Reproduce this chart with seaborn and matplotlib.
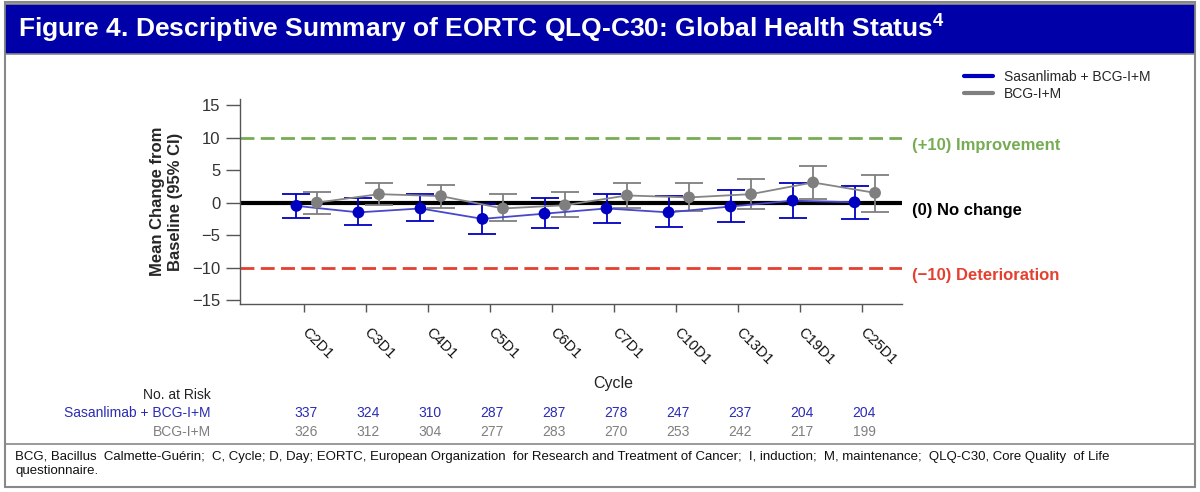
import pandas as pd
import seaborn as sns
import matplotlib.pyplot as plt
from matplotlib.patches import Rectangle
from matplotlib.lines import Line2D
from matplotlib.transforms import ScaledTranslation


# values
cycles = ["C2D1", "C3D1", "C4D1", "C5D1", "C6D1", "C7D1", "C10D1", "C13D1", "C19D1", "C25D1"]

sas_mean = [-0.5, -1.5, -0.9, -2.5, -1.7, -0.9, -1.5, -0.6, 0.3, 0.05]
sas_lo = [-2.4, -3.5, -2.8, -4.9, -3.9, -3.1, -3.7, -3.0, -2.3, -2.5]
sas_hi = [1.4, 0.7, 1.3, -0.2, 0.7, 1.3, 1.0, 2.0, 3.0, 2.6]

bcg_mean = [0.0, 1.3, 1.0, -0.9, -0.4, 1.1, 0.8, 1.3, 3.1, 1.5]
bcg_lo = [-1.8, -0.3, -0.8, -2.9, -2.2, -0.9, -1.3, -1.0, 0.6, -1.4]
bcg_hi = [1.6, 3.0, 2.7, 1.4, 1.7, 3.0, 3.0, 3.7, 5.7, 4.3]

sas_n = [337, 324, 310, 287, 287, 278, 247, 237, 204, 204]
bcg_n = [326, 312, 304, 277, 283, 270, 253, 242, 217, 199]

arms = ["Sasanlimab + BCG-I+M", "BCG-I+M"]

# esthetics
sns.set_style("white")
plt.rcParams["font.family"] = ["Liberation Sans", "DejaVu Sans"]
plt.rcParams["mathtext.fontset"] = "custom"
plt.rcParams["mathtext.rm"] = "Liberation Sans"
plt.rcParams["mathtext.bf"] = "Liberation Sans:bold"
narrow = ["Liberation Sans Narrow", "Liberation Sans", "DejaVu Sans"]

palette = {
    arms[0]: "#0000C0",  # blue
    arms[1]: "#7F7F7F",  # gray
}
line_colors = {arms[0]: "#4848CC", arms[1]: "#858585"}
offsets = {arms[0]: -0.12, arms[1]: 0.21}
green = "#77AC55"
red = "#E5402F"

rows = []
for arm, means, los, his in [
    (arms[0], sas_mean, sas_lo, sas_hi),
    (arms[1], bcg_mean, bcg_lo, bcg_hi),
]:
    for i, c in enumerate(cycles):
        rows.append({"Arm": arm, "Cycle": c, "pos": i + offsets[arm],
                     "Mean": means[i], "lo": los[i], "hi": his[i]})
df = pd.DataFrame(rows)

fig = plt.figure(figsize=(12, 4.92), dpi=100)
ax = fig.add_axes([0.2, 0.382, 0.5517, 0.417])

# reference lines
ax.axhline(10, color=green, lw=2, ls=(0, (5, 2.3)), zorder=1)
ax.axhline(-10, color=red, lw=2, ls=(0, (5, 2.3)), zorder=1)
ax.axhline(0, color="black", lw=3, zorder=2)

for arm in arms:
    sub = df[df["Arm"] == arm]
    ax.errorbar(sub["pos"], sub["Mean"],
                yerr=[sub["Mean"] - sub["lo"], sub["hi"] - sub["Mean"]],
                fmt="none", ecolor=palette[arm], elinewidth=1.3,
                capsize=10, capthick=1.3, zorder=3)

sns.lineplot(data=df, x="pos", y="Mean", hue="Arm", palette=line_colors,
             hue_order=arms, lw=1.3, legend=False, ax=ax, zorder=3,
             sort=True, estimator=None)
sns.scatterplot(data=df, x="pos", y="Mean", hue="Arm", palette=palette,
                hue_order=arms, s=72, edgecolor="none", legend=False,
                ax=ax, zorder=4)

ax.set_xlim(-1.03, 9.645)
ax.set_ylim(-15.6, 15.95)
ax.set_yticks([15, 10, 5, 0, -5, -10, -15])
ax.set_yticklabels(["15", "10", "5", "0", "\u22125", "\u221210", "\u221215"])
ax.set_xticks(range(len(cycles)))
ax.set_xticklabels(cycles, rotation=-45, ha="left", va="top",
                   rotation_mode="anchor")
ax.tick_params(axis="y", length=10, width=1, color="#555555",
               labelsize=12, labelcolor="#333333", pad=4, left=True)
ax.tick_params(axis="x", length=6, width=1, color="#555555",
               labelsize=10.5, labelcolor="#111111", pad=9, bottom=True)
shift = ScaledTranslation(5 / 100, 0, fig.dpi_scale_trans)
for lab in ax.get_xticklabels():
    lab.set_transform(lab.get_transform() + shift)
sns.despine(ax=ax)
for side in ["left", "bottom"]:
    ax.spines[side].set_color("#555555")
    ax.spines[side].set_linewidth(1)

ax.set_ylabel("Mean Change from\nBaseline (95% CI)", fontsize=12,
              fontweight="bold", labelpad=7)
ax.set_xlabel("Cycle", fontsize=11.5, color="#222222")
ax.xaxis.set_label_coords((613 - 240) / 662, (304 - 376) / 205)

# reference labels
ax.text(9.8, 10, "(+10) Improvement", color=green, fontsize=12,
        fontweight="bold", va="top", ha="left", clip_on=False)
ax.text(9.8, 0, "(0) No change", color="black", fontsize=12,
        fontweight="bold", va="top", ha="left", clip_on=False)
ax.text(9.8, -10, "(\u221210) Deterioration", color=red, fontsize=12,
        fontweight="bold", va="top", ha="left", clip_on=False)

# legend
handles = [Line2D([], [], color=palette[a], lw=3) for a in arms]
fig.legend(handles, arms, loc="upper left", bbox_to_anchor=(958 / 1200, 1 - 64 / 492),
           frameon=False, fontsize=10, handlelength=2.1, handletextpad=0.8,
           labelspacing=0.25, borderaxespad=0)

# number at risk table
fig.text(211 / 1200, 1 - 395 / 492, "No. at Risk", ha="right", va="center",
         fontsize=10, family=narrow, color="#222222")
fig.text(211 / 1200, 1 - 413 / 492, arms[0], ha="right", va="center",
         fontsize=10, family=narrow, color="#2B2BB5")
fig.text(211 / 1200, 1 - 432 / 492, arms[1], ha="right", va="center",
         fontsize=10, family=narrow, color="#7F7F7F")
for i in range(len(cycles)):
    xf = (304 + 62 * i + 2) / 1200
    fig.text(xf, 1 - 413 / 492, str(sas_n[i]), ha="center", va="center",
             fontsize=10, family=narrow, color="#2B2BB5")
    fig.text(xf, 1 - 432 / 492, str(bcg_n[i]), ha="center", va="center",
             fontsize=10, family=narrow, color="#7F7F7F")

# frame, title bar and footnote
fig.patches.append(Rectangle((5 / 1200, 5 / 492), 1190 / 1200, 485 / 492,
                             transform=fig.transFigure, fill=False,
                             ec="#888888", lw=1.5, zorder=0))
fig.patches.append(Rectangle((5 / 1200, 1 - 54 / 492), 1190 / 1200, 50 / 492,
                             transform=fig.transFigure, fc="#0000A8",
                             ec="#888888", lw=1.2, zorder=1))
fig.text(18 / 1200, 1 - 28 / 492,
         "Figure 4. Descriptive Summary of EORTC QLQ-C30: Global Health Status$^{\\mathbf{4}}$",
         color="white", fontsize=19, fontweight="bold", va="center", ha="left")
fig.add_artist(Line2D([5 / 1200, 1195 / 1200], [1 - 444 / 492, 1 - 444 / 492],
                      transform=fig.transFigure, color="#888888", lw=1.2))
fig.text(15 / 1200, 1 - 457 / 492,
         "BCG, Bacillus  Calmette-Gu\u00e9rin;  C, Cycle; D, Day; EORTC, European "
         "Organization  for Research and Treatment of Cancer;  I, induction;  "
         "M, maintenance;  QLQ-C30, Core Quality  of Life",
         fontsize=9.5, va="center", ha="left", color="#111111")
fig.text(15 / 1200, 1 - 471 / 492, "questionnaire.", fontsize=9.5,
         va="center", ha="left", color="#111111")

fig.savefig("out.png", dpi=100)
plt.close()
